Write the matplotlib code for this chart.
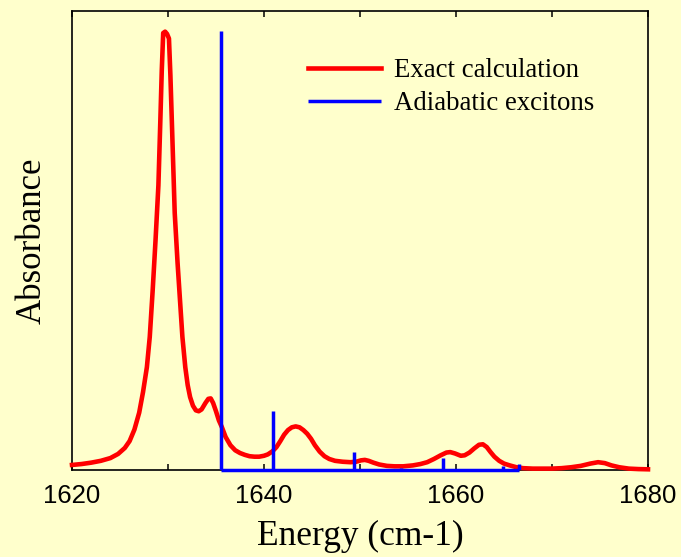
import numpy as np
import matplotlib
matplotlib.use("Agg")
import matplotlib.pyplot as plt

# exact calculation spectrum
energy = [1620.0, 1621.0, 1622.0, 1623.0, 1624.0, 1624.8, 1625.5, 1626.0, 1626.5,
          1627.0, 1627.4, 1627.8, 1628.1, 1628.4, 1628.7, 1629.0, 1629.2, 1629.35,
          1629.5, 1629.7, 1629.9, 1630.1, 1630.25, 1630.4, 1630.55, 1630.7, 1631.0,
          1631.25, 1631.5, 1631.8, 1632.05, 1632.3, 1632.6, 1632.9, 1633.2, 1633.5,
          1633.9, 1634.2, 1634.45, 1634.7, 1635.0, 1635.3, 1635.6, 1636.0, 1636.5,
          1637.0, 1637.5, 1638.0, 1638.5, 1639.0, 1639.5, 1640.0, 1640.4, 1640.9,
          1641.3, 1641.7, 1642.1, 1642.5, 1642.9, 1643.3, 1643.7, 1644.1, 1644.5,
          1644.9, 1645.3, 1645.8, 1646.3, 1646.8, 1647.4, 1648.2, 1649.0, 1649.6,
          1650.1, 1650.5, 1650.9, 1651.4, 1652.0, 1652.8, 1653.6, 1654.5, 1655.5,
          1656.3, 1657.0, 1657.7, 1658.4, 1659.0, 1659.4, 1659.9, 1660.5, 1660.9,
          1661.4, 1661.9, 1662.4, 1662.8, 1663.2, 1663.6, 1664.0, 1664.5, 1665.0,
          1665.6, 1666.3, 1667.0, 1668.0, 1669.0, 1670.0, 1671.0, 1672.0, 1673.0,
          1674.0, 1674.8, 1675.5, 1676.2, 1677.0, 1678.0, 1679.0, 1680.0]
absorb = [0.011, 0.013, 0.016, 0.020, 0.026, 0.035, 0.048, 0.063, 0.088,
          0.125, 0.170, 0.224, 0.290, 0.390, 0.500, 0.620, 0.760, 0.870,
          0.952, 0.955, 0.950, 0.940, 0.860, 0.760, 0.660, 0.560, 0.450,
          0.370, 0.290, 0.224, 0.185, 0.159, 0.140, 0.130, 0.128, 0.132,
          0.146, 0.155, 0.156, 0.146, 0.128, 0.108, 0.094, 0.072, 0.054,
          0.043, 0.037, 0.033, 0.030, 0.029, 0.029, 0.031, 0.034, 0.041,
          0.050, 0.063, 0.077, 0.087, 0.093, 0.095, 0.093, 0.087, 0.079,
          0.068, 0.054, 0.040, 0.030, 0.024, 0.020, 0.018, 0.017, 0.018,
          0.021, 0.022, 0.020, 0.016, 0.012, 0.009, 0.008, 0.008, 0.010,
          0.013, 0.017, 0.024, 0.032, 0.038, 0.039, 0.036, 0.031, 0.032,
          0.038, 0.047, 0.055, 0.056, 0.050, 0.039, 0.029, 0.020, 0.014,
          0.010, 0.006, 0.004, 0.003, 0.003, 0.003, 0.004, 0.006, 0.009,
          0.014, 0.017, 0.015, 0.010, 0.006, 0.003, 0.002, 0.0015]

# adiabatic exciton sticks
stick_pos = [1635.5, 1640.9, 1649.4, 1654.3, 1658.6, 1662.3, 1664.9, 1666.6]
stick_h = [0.956, 0.129, 0.040, 0.004, 0.027, 0.003, 0.009, 0.012]

xticks = [1620, 1630, 1640, 1650, 1660, 1670, 1680]
xticklabels = ['1620', '', '1640', '', '1660', '', '1680']

bg = '#ffffcc'
fig = plt.figure(figsize=(6.81, 5.57), dpi=100, facecolor=bg)
ax = fig.add_axes([72/681, 87/557, 576/681, 459/557], facecolor=bg)

ax.plot(energy, absorb, color='red', lw=3.3, label='Exact calculation',
        solid_joinstyle='round', clip_on=False, zorder=3)
ax.vlines(stick_pos, 0, stick_h, color='blue', lw=2.5, label='Adiabatic excitons', zorder=4)
ax.hlines(0, stick_pos[0], stick_pos[-1], color='blue', lw=2.5, zorder=4, clip_on=False)

ax.set_xlim(1620, 1680)
ax.set_ylim(0, 1)
ax.set_xticks(xticks)
ax.set_xticklabels(xticklabels, family='Liberation Sans', fontsize=18.5)
ax.set_yticks([])
ax.tick_params(axis='x', direction='in', top=True, length=4, width=1.1, pad=10)
for s in ax.spines.values():
    s.set_linewidth(1.2)

ax.set_xlabel('Energy (cm-1)', family='Liberation Serif', fontsize=25.5, labelpad=9)
ax.set_ylabel('Absorbance', family='Liberation Serif', fontsize=25, labelpad=17)

ax.legend(loc='upper left', bbox_to_anchor=(0.41, 0.897), frameon=False,
          prop={'family': 'Liberation Serif', 'size': 19.3},
          handlelength=2.7, handletextpad=0.5, labelspacing=0.3,
          borderpad=0, borderaxespad=0)

fig.savefig('out.png', dpi=100, facecolor=bg)
